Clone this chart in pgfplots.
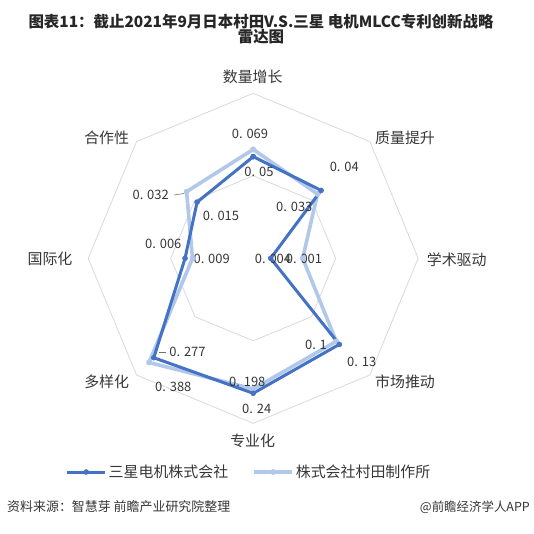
\documentclass[border=0pt]{standalone}
\usepackage{fontspec}
\usepackage{pgfplots}
\usepackage{pgfplotstable}
\pgfplotsset{compat=1.18}
\setmainfont{Noto Sans CJK SC}
\definecolor{darkS}{RGB}{68,114,196}
\definecolor{lightS}{RGB}{178,200,234}
\definecolor{gridc}{RGB}{218,218,218}
\definecolor{txt}{RGB}{55,55,55}
\definecolor{ttl}{RGB}{38,38,38}

% angle (deg, clockwise from top), radius (fraction of outer ring)
\pgfplotstableread{
a r
0 0.616
45 0.582
90 0.106
135 0.738
180 0.818
225 0.852
270 0.413
315 0.481
360 0.616
}\samsung

\pgfplotstableread{
a r
0 0.660
45 0.551
90 0.300
135 0.712
180 0.792
225 0.893
270 0.368
315 0.571
360 0.660
}\murata

\pgfplotstableread{
a r
0 1
45 1
90 1
135 1
180 1
225 1
270 1
315 1
360 1
}\gridtab

\newcommand\lab[3]{\node[font=\fontsize{13}{13}\selectfont,text=txt,inner sep=0pt] at (axis cs:#1,#2) {#3};}
\newcommand\cat[3]{\node[font=\fontsize{15}{15}\selectfont,text=txt,inner sep=0pt] at (axis cs:#1,#2) {#3};}

\begin{document}
\begin{tikzpicture}
\begin{axis}[
  width=534bp,height=534bp,scale only axis,
  xmin=0,xmax=534,ymin=0,ymax=534,y dir=reverse,
  hide axis,clip=false,
  reverse legend,
  legend columns=2,
  legend style={at={(axis cs:249,472)},anchor=center,draw=none,fill=none,
    font=\fontsize{15}{15}\selectfont,text=txt,
    /tikz/every even column/.append style={column sep=22bp}},
  legend image code/.code={\draw[#1,mark repeat=2,mark phase=2] plot coordinates {(0bp,0bp)(19bp,0bp)(38bp,0bp)};},
]
\fill[white] (axis cs:0,0) rectangle (axis cs:534,534);
% grid octagons
\addplot[gridc,line width=0.8bp,forget plot] table[x expr={253.2+165*\thisrow{r}*sin(\thisrow{a})},y expr={258.3-165*\thisrow{r}*cos(\thisrow{a})}]{\gridtab};
\addplot[gridc,line width=0.8bp,forget plot] table[x expr={253.2+82.5*\thisrow{r}*sin(\thisrow{a})},y expr={258.3-82.5*\thisrow{r}*cos(\thisrow{a})}]{\gridtab};
% series
\addplot[lightS,line width=3.6bp,line join=round,mark=*,mark size=2.6bp,mark options={fill=lightS,draw=lightS,line width=0.5bp}] table[x expr={253.2+165*\thisrow{r}*sin(\thisrow{a})},y expr={258.3-165*\thisrow{r}*cos(\thisrow{a})}]{\murata};
\addlegendentry{株式会社村田制作所}
\addplot[darkS,line width=3bp,line join=round,mark=*,mark size=2.5bp,mark options={fill=darkS,draw=darkS,line width=0.5bp}] table[x expr={253.2+165*\thisrow{r}*sin(\thisrow{a})},y expr={258.3-165*\thisrow{r}*cos(\thisrow{a})}]{\samsung};
\addlegendentry{三星电机株式会社}

% data labels
\lab{250}{134}{0. 069}
\lab{259}{171.7}{0. 05}
\lab{344.3}{167.3}{0. 04}
\lab{294.3}{206.7}{0. 033}
\lab{273}{259.3}{0. 004}
\lab{304}{259.3}{0. 001}
\lab{150.7}{195}{0. 032}
\lab{221}{216}{0. 015}
\lab{163.3}{244.3}{0. 006}
\lab{211.7}{259.3}{0. 009}
\lab{187.5}{351.7}{0. 277}
\lab{173.3}{386.7}{0. 388}
\lab{247.3}{382.3}{0. 198}
\lab{256.7}{409.3}{0. 24}
\lab{316}{345}{0. 1}
\lab{361.7}{361.7}{0. 13}
\draw[txt!70,line width=0.6bp] (axis cs:174,195) -- (axis cs:184,193.5);
\draw[txt!70,line width=0.6bp] (axis cs:159,352.7) -- (axis cs:166,352.7);

% category labels
\cat{252.7}{76.7}{数量增长}
\cat{405}{137.7}{质量提升}
\cat{456.7}{259.3}{学术驱动}
\cat{405}{381.5}{市场推动}
\cat{252.7}{441}{专业化}
\cat{106.7}{381.7}{多样化}
\cat{50}{259.3}{国际化}
\cat{106.7}{137.7}{合作性}

% title
\node[font=\fontsize{15.5}{15.5}\selectfont\bfseries,text=ttl,align=center,inner sep=0pt] at (axis cs:261,29)
  {图表11：截止2021年9月日本村田V.S.三星 电机MLCC专利创新战略\\[-1bp]雷达图};
% source
\node[font=\fontsize{13}{13}\selectfont,text=txt,anchor=west,inner sep=0pt] at (axis cs:7,507) {资料来源：智慧芽 前瞻产业研究院整理};
\node[font=\fontsize{12.5}{12.5}\selectfont,text=txt,anchor=east,inner sep=0pt] at (axis cs:530,507) {@前瞻经济学人APP};
\end{axis}
\end{tikzpicture}
\end{document}
